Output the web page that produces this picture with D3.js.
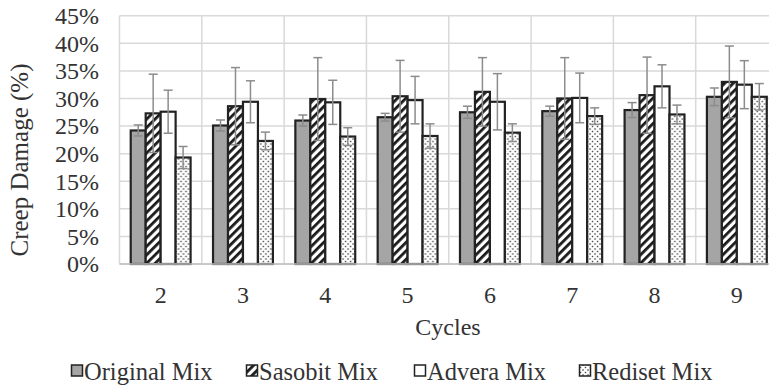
<!DOCTYPE html>
<html>
<head>
<meta charset="utf-8">
<script src="https://cdn.jsdelivr.net/npm/d3@7"></script>
<style>
  body { margin: 0; background: #fff; }
  svg { display: block; font-family: "Liberation Serif", "Times New Roman", serif; }
</style>
</head>
<body>
<svg id="chart" width="769" height="389"></svg>
<script>
// Data
const cycles = ["2", "3", "4", "5", "6", "7", "8", "9"];
const seriesNames = ["Original Mix", "Sasobit Mix", "Advera Mix", "Rediset Mix"];
const original = [24.2, 25.1, 26.0, 26.6, 27.5, 27.7, 27.9, 30.3];
const sasobit  = [27.3, 28.6, 29.9, 30.4, 31.2, 30.0, 30.6, 33.0];
const advera   = [27.6, 29.4, 29.3, 29.7, 29.4, 30.1, 32.2, 32.5];
const rediset  = [19.3, 22.3, 23.1, 23.2, 23.8, 26.8, 27.1, 30.3];
// error bar half-widths (+/-)
const originalErr = [1.0, 1.0, 1.0, 0.7, 1.1, 0.9, 1.35, 1.6];
const sasobitErr  = [7.1, 7.0, 7.5, 6.5, 6.2, 7.4, 6.9, 6.5];
const adveraErr   = [3.9, 3.8, 4.0, 4.3, 5.1, 4.5, 3.9, 4.35];
const redisetErr  = [2.0, 1.6, 1.6, 2.2, 1.6, 1.5, 1.7, 2.4];
const yTicks = [0, 5, 10, 15, 20, 25, 30, 35, 40, 45];

const values = [original, sasobit, advera, rediset];
const errors = [originalErr, sasobitErr, adveraErr, redisetErr];

const svg = d3.select("#chart");
const margin = { top: 15.7, left: 119.5 };
const plotBottom = 264;
const plotRight = 778;   // plot runs past the right edge of the picture

const x0 = d3.scaleBand()
    .domain(cycles)
    .range([margin.left, plotRight]);

const x1 = d3.scaleBand()
    .domain(seriesNames)
    .range([0, x0.bandwidth()])
    .paddingOuter(0.75);

const y = d3.scaleLinear()
    .domain([0, 45])
    .range([plotBottom, margin.top]);

// Patterns
const defs = svg.append("defs");
const stripes = defs.append("pattern")
    .attr("id", "stripes")
    .attr("patternUnits", "userSpaceOnUse")
    .attr("width", 6)
    .attr("height", 6)
    .attr("patternTransform", "rotate(45)");
stripes.append("rect").attr("width", 6).attr("height", 6).attr("fill", "#fff");
stripes.append("rect").attr("width", 2.8).attr("height", 6).attr("fill", "#1a1a1a");

const dots = defs.append("pattern")
    .attr("id", "dots")
    .attr("patternUnits", "userSpaceOnUse")
    .attr("width", 5)
    .attr("height", 5);
dots.append("rect").attr("width", 5).attr("height", 5).attr("fill", "#fff");
dots.append("rect").attr("x", 0.8).attr("y", 0.8).attr("width", 1.4).attr("height", 1.4).attr("fill", "#444");
dots.append("rect").attr("x", 3.3).attr("y", 3.3).attr("width", 1.4).attr("height", 1.4).attr("fill", "#444");

const fills = ["#a5a5a5", "url(#stripes)", "#ffffff", "url(#dots)"];

// Gridlines
const grid = svg.append("g").attr("stroke", "#d9d9d9").attr("stroke-width", 1.5);
grid.selectAll(".hgrid")
    .data(yTicks)
    .join("line")
    .attr("x1", margin.left)
    .attr("x2", plotRight)
    .attr("y1", d => y(d))
    .attr("y2", d => y(d));
grid.selectAll(".vgrid")
    .data(cycles.concat(["end"]))
    .join("line")
    .attr("x1", (d, i) => margin.left + i * x0.step())
    .attr("x2", (d, i) => margin.left + i * x0.step())
    .attr("y1", margin.top)
    .attr("y2", plotBottom);

// Bars
const groups = svg.append("g")
    .selectAll("g")
    .data(cycles)
    .join("g")
    .attr("transform", d => `translate(${x0(d)},0)`);

groups.selectAll("rect")
    .data((d, i) => seriesNames.map((s, k) => ({ s, k, v: values[k][i], e: errors[k][i] })))
    .join("rect")
    .attr("x", d => x1(d.s))
    .attr("y", d => y(d.v))
    .attr("width", x1.bandwidth())
    .attr("height", d => plotBottom - y(d.v))
    .attr("fill", d => fills[d.k])
    .attr("stroke", "#222")
    .attr("stroke-width", 2.2);

// Error bars
const errG = groups.selectAll("g.err")
    .data((d, i) => seriesNames.map((s, k) => ({ s, k, v: values[k][i], e: errors[k][i] })))
    .join("g")
    .attr("class", "err")
    .attr("stroke", "#8c8c8c")
    .attr("stroke-width", 1.5);
errG.append("line")
    .attr("x1", d => x1(d.s) + x1.bandwidth() / 2)
    .attr("x2", d => x1(d.s) + x1.bandwidth() / 2)
    .attr("y1", d => y(d.v + d.e))
    .attr("y2", d => y(d.v - d.e));
errG.selectAll("line.cap")
    .data(d => [{ d, t: d.v + d.e }, { d, t: d.v - d.e }])
    .join("line")
    .attr("class", "cap")
    .attr("x1", c => x1(c.d.s) + x1.bandwidth() / 2 - 4.5)
    .attr("x2", c => x1(c.d.s) + x1.bandwidth() / 2 + 4.5)
    .attr("y1", c => y(c.t))
    .attr("y2", c => y(c.t));

// Bottom axis line
svg.append("line")
    .attr("x1", margin.left)
    .attr("x2", plotRight)
    .attr("y1", plotBottom)
    .attr("y2", plotBottom)
    .attr("stroke", "#bfbfbf")
    .attr("stroke-width", 1.5);

// Y tick labels
svg.append("g")
    .selectAll("text")
    .data(yTicks)
    .join("text")
    .attr("x", 99)
    .attr("y", d => y(d))
    .attr("dy", "0.35em")
    .attr("text-anchor", "end")
    .attr("font-size", 24)
    .attr("fill", "#333")
    .text(d => d + "%");

// X tick labels
svg.append("g")
    .selectAll("text")
    .data(cycles)
    .join("text")
    .attr("x", d => x0(d) + x0.bandwidth() / 2)
    .attr("y", 295)
    .attr("dy", "0.35em")
    .attr("text-anchor", "middle")
    .attr("font-size", 24)
    .attr("fill", "#333")
    .text(d => d);

// Axis titles
svg.append("text")
    .attr("x", 448)
    .attr("y", 327)
    .attr("dy", "0.35em")
    .attr("text-anchor", "middle")
    .attr("font-size", 24)
    .attr("fill", "#333")
    .text("Cycles");

svg.append("text")
    .attr("transform", "translate(19,160) rotate(-90)")
    .attr("dy", "0.35em")
    .attr("text-anchor", "middle")
    .attr("font-size", 25)
    .attr("fill", "#333")
    .text("Creep Damage (%)");

// Legend
const legendX = [71, 246, 414, 579];
const legend = svg.append("g")
    .selectAll("g")
    .data(seriesNames)
    .join("g")
    .attr("transform", (d, i) => `translate(${legendX[i]},371)`);
legend.append("rect")
    .attr("x", 0.5)
    .attr("y", -6)
    .attr("width", 11)
    .attr("height", 11)
    .attr("fill", (d, i) => fills[i])
    .attr("stroke", "#222")
    .attr("stroke-width", 1.5);
legend.append("text")
    .attr("x", 13)
    .attr("y", 0)
    .attr("dy", "0.35em")
    .attr("font-size", 24.5)
    .attr("fill", "#333")
    .text(d => d);
</script>
</body>
</html>
